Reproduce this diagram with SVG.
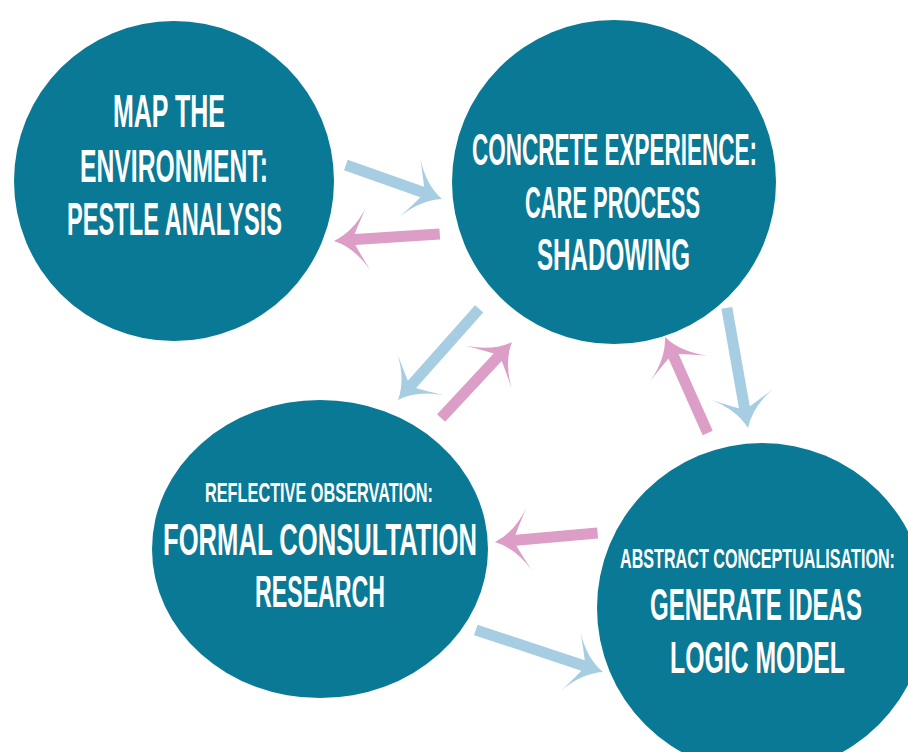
<svg xmlns="http://www.w3.org/2000/svg" width="908" height="752" viewBox="0 0 908 752">
<defs>
<style>
.node{fill:#0a7995}
.t{fill:#ffffff;font-family:"Liberation Sans",Arial,sans-serif;font-weight:bold;text-anchor:middle}
.big{font-size:44px}
.small{font-size:28px}
.blue{fill:#a6cde1}
.pink{fill:#dc9dc7}
</style>
</defs>
<rect width="908" height="752" fill="#ffffff"/>
<g id="connectors">
<path class="blue" transform="translate(442,199) rotate(19.5)" d="M0 0 Q-20 -8 -34 -31 Q-25 -14 -21 -5.5 L-102 -5.5 L-102 5.5 L-21 5.5 Q-25 14 -34 31 Q-20 8 0 0 Z"/>
<path class="pink" transform="translate(334,241) rotate(-3.8)" d="M0 0 Q20 -8 34 -31 Q25 -14 21 -5.5 L106 -5.5 L106 5.5 L21 5.5 Q25 14 34 31 Q20 8 0 0 Z"/>
<path class="blue" transform="translate(398,400) rotate(131.7)" d="M0 0 Q-20 -8 -34 -31 Q-25 -14 -21 -5.5 L-122 -5.5 L-122 5.5 L-21 5.5 Q-25 14 -34 31 Q-20 8 0 0 Z"/>
<path class="pink" transform="translate(512,342) rotate(-47)" d="M0 0 Q-20 -8 -34 -31 Q-25 -14 -21 -5.5 L-104 -5.5 L-104 5.5 L-21 5.5 Q-25 14 -34 31 Q-20 8 0 0 Z"/>
<path class="pink" transform="translate(665,337) rotate(-114)" d="M0 0 Q-20 -8 -34 -31 Q-25 -14 -21 -5.5 L-105 -5.5 L-105 5.5 L-21 5.5 Q-25 14 -34 31 Q-20 8 0 0 Z"/>
<path class="blue" transform="translate(748,428) rotate(80)" d="M0 0 Q-20 -8 -34 -31 Q-25 -14 -21 -5.5 L-122 -5.5 L-122 5.5 L-21 5.5 Q-25 14 -34 31 Q-20 8 0 0 Z"/>
<path class="pink" transform="translate(495,542) rotate(175)" d="M0 0 Q-20 -8 -34 -31 Q-25 -14 -21 -5.5 L-103 -5.5 L-103 5.5 L-21 5.5 Q-25 14 -34 31 Q-20 8 0 0 Z"/>
<path class="blue" transform="translate(603,672) rotate(18.3)" d="M0 0 Q-20 -8 -34 -31 Q-25 -14 -21 -5.5 L-134 -5.5 L-134 5.5 L-21 5.5 Q-25 14 -34 31 Q-20 8 0 0 Z"/>
</g>
<g id="node-map">
<circle class="node" cx="174" cy="181" r="160"/>
<text class="t big" x="169" y="127" style="font-size:46px" textLength="112" lengthAdjust="spacingAndGlyphs">MAP THE</text>
<text class="t big" x="174" y="182" style="font-size:46px" textLength="188" lengthAdjust="spacingAndGlyphs">ENVIRONMENT:</text>
<text class="t big" x="174.5" y="235" style="font-size:46px" textLength="215" lengthAdjust="spacingAndGlyphs">PESTLE ANALYSIS</text>
</g>
<g id="node-concrete">
<circle class="node" cx="614" cy="182" r="162"/>
<text class="t big" x="614.5" y="165" textLength="285" lengthAdjust="spacingAndGlyphs">CONCRETE EXPERIENCE:</text>
<text class="t big" x="612.5" y="218" textLength="175" lengthAdjust="spacingAndGlyphs">CARE PROCESS</text>
<text class="t big" x="613.5" y="270" textLength="153" lengthAdjust="spacingAndGlyphs">SHADOWING</text>
</g>
<g id="node-reflective">
<ellipse class="node" cx="320" cy="549" rx="168" ry="149"/>
<text class="t small" x="319" y="502" textLength="228" lengthAdjust="spacingAndGlyphs">REFLECTIVE OBSERVATION:</text>
<text class="t big" x="320" y="555" textLength="314" lengthAdjust="spacingAndGlyphs">FORMAL CONSULTATION</text>
<text class="t big" x="320" y="607" textLength="130" lengthAdjust="spacingAndGlyphs">RESEARCH</text>
</g>
<g id="node-abstract">
<circle class="node" cx="762" cy="608" r="165"/>
<text class="t small" x="757.5" y="568" textLength="275" lengthAdjust="spacingAndGlyphs">ABSTRACT CONCEPTUALISATION:</text>
<text class="t big" x="756" y="620" textLength="212" lengthAdjust="spacingAndGlyphs">GENERATE IDEAS</text>
<text class="t big" x="757.5" y="673" textLength="175" lengthAdjust="spacingAndGlyphs">LOGIC MODEL</text>
</g>
</svg>
